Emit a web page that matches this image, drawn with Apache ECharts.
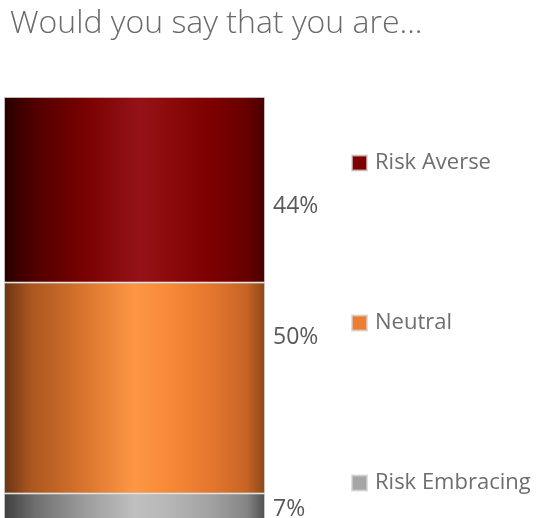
<!DOCTYPE html>
<html>
<head>
<meta charset="utf-8">
<script src="https://cdn.jsdelivr.net/npm/echarts@6/dist/echarts.min.js"></script>
<style>
  html, body { margin: 0; padding: 0; background: #fff; }
  #chart { width: 538px; height: 518px; }
</style>
</head>
<body>
<div id="chart"></div>
<script>
// Survey question and answer shares (percent)
const titleText = 'Would you say that you are...';
const categories = [''];
const seriesNames = ['Risk Embracing', 'Neutral', 'Risk Averse'];
const riskEmbracing = [7];
const neutral = [50];
const riskAverse = [44];
const legendOrder = ['Risk Averse', 'Neutral', 'Risk Embracing'];

const FONT = '"Open Sans", "Noto Sans", sans-serif';

// Horizontal shading that gives each stacked segment a rounded, cylinder-like look
function shade(stops) {
  return new echarts.graphic.LinearGradient(0, 0, 1, 0,
    stops.map(([offset, color]) => ({ offset, color })));
}

const styles = {
  'Risk Embracing': {
    flat: '#a5a5a5',
    fill: shade([[0, '#3f3f3f'], [0.12, '#6f6f6f'], [0.3, '#9a9a9a'], [0.5, '#bfbfbf'], [0.62, '#b8b8b8'], [0.8, '#a0a0a0'], [0.93, '#858585'], [1, '#505050']]),
    offset: [0, 1]
  },
  'Neutral': {
    flat: '#ed7d31',
    fill: shade([[0, '#6a3414'], [0.1, '#a9561f'], [0.3, '#d8732d'], [0.5, '#fd9745'], [0.62, '#f98a38'], [0.8, '#e3762d'], [0.93, '#c66426'], [1, '#8c4718']]),
    offset: [0, -51]
  },
  'Risk Averse': {
    flat: '#800000',
    fill: shade([[0, '#2a0000'], [0.12, '#520000'], [0.3, '#770000'], [0.52, '#951318'], [0.62, '#8e0b0d'], [0.8, '#7c0000'], [0.93, '#670000'], [1, '#480000']]),
    offset: [0, 17]
  }
};

const valuesByName = {
  'Risk Embracing': riskEmbracing,
  'Neutral': neutral,
  'Risk Averse': riskAverse
};

const chart = echarts.init(document.getElementById('chart'), null, { renderer: 'canvas' });

chart.setOption({
  backgroundColor: '#ffffff',
  animation: false,
  title: {
    text: titleText,
    left: 5,
    top: 3,
    textStyle: { fontFamily: FONT, fontSize: 32, fontWeight: 300, color: '#6a6a6a' }
  },
  legend: {
    orient: 'vertical',
    left: 346,
    top: 145,
    itemWidth: 15,
    itemHeight: 15,
    itemGap: 134,
    icon: 'rect',
    selectedMode: false,
    textStyle: { fontFamily: FONT, fontSize: 22, lineHeight: 26, color: '#6e6e6e', padding: [0, 0, 0, 3] },
    data: legendOrder.map(name => ({ name, itemStyle: { color: styles[name].flat } }))
  },
  // the stack runs past the lower edge of the view, so the grid is left unclamped
  grid: { left: 4, top: 97, width: 261, height: 426, containLabel: false, outerBoundsMode: 'none' },
  xAxis: {
    type: 'category',
    data: categories,
    show: false
  },
  yAxis: {
    type: 'value',
    min: 0,
    max: 101,
    show: false
  },
  series: seriesNames.map(name => ({
    name,
    type: 'bar',
    stack: 'total',
    barWidth: '100%',
    data: valuesByName[name],
    itemStyle: { color: styles[name].fill, borderColor: 'rgba(210,210,210,0.7)', borderWidth: 1 },
    label: {
      show: true,
      position: 'right',
      distance: 8,
      offset: styles[name].offset,
      formatter: p => p.value + '%',
      fontFamily: FONT,
      fontSize: 23,
      color: '#595959'
    }
  }))
});
</script>
</body>
</html>
